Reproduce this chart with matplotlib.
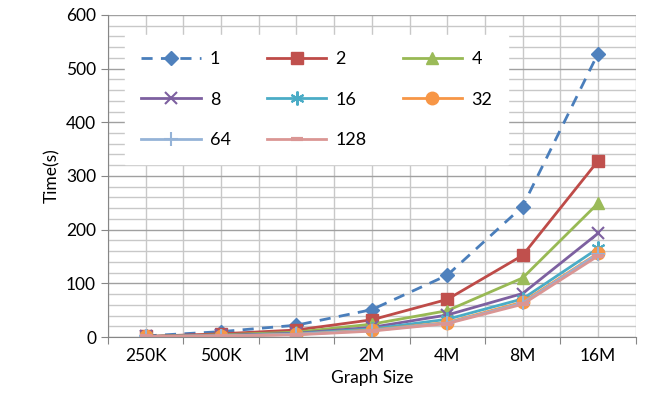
import numpy as np
import matplotlib.pyplot as plt
from matplotlib.ticker import MultipleLocator, FixedLocator

plt.rcParams['font.family'] = ['Lato', 'DejaVu Sans']

sizes = ['250K', '500K', '1M', '2M', '4M', '8M', '16M']
t1 = [2, 10, 22, 51, 115, 243, 528]
t2 = [1, 6, 13, 32, 70, 152, 328]
t4 = [1, 4, 9, 24, 49, 110, 249]
t8 = [1, 3, 7, 18, 41, 81, 193]
t16 = [1, 2, 6, 15, 33, 71, 165]
t32 = [1, 2, 5, 13, 27, 65, 156]
t64 = [1, 2, 5, 12, 26, 63, 155]
t128 = [1, 2, 4, 11, 25, 61, 151]

x = np.arange(len(sizes))

fig = plt.figure(figsize=(6.5, 4.13), dpi=100)
ax = fig.add_axes([0.166, 0.184, 0.812, 0.78])

ax.plot(x, t1, color='#4A7EBB', ls=(0, (4, 3)), lw=2, marker='D', ms=7, mfc='#4F81BD', mec='#4F81BD', label='1')
ax.plot(x, t2, color='#BE4B48', lw=2, marker='s', ms=9, mfc='#C0504D', mec='#C0504D', label='2')
ax.plot(x, t4, color='#98B954', lw=2, marker='^', ms=9, mfc='#9BBB59', mec='#9BBB59', label='4')
ax.plot(x, t8, color='#7D60A0', lw=2, marker='x', ms=9, mew=1.5, label='8')
ax.plot(x, t16, color='#4BACC6', lw=2, marker=(6, 2, 0), ms=10, mew=1.5, label='16')
ax.plot(x, t32, color='#F79646', lw=2, marker='o', ms=9, mfc='#F79646', mec='#F79646', label='32')
ax.plot(x, t64, color='#95B3D7', lw=2, marker='+', ms=10, mew=1.5, label='64')
ax.plot(x, t128, color='#DA9694', lw=2, marker='_', ms=8, mew=3, label='128')

ax.set_xlim(-0.5, len(sizes) - 0.5)
ax.set_ylim(0, 600)

ax.yaxis.set_major_locator(MultipleLocator(100))
ax.yaxis.set_minor_locator(MultipleLocator(20))
ax.xaxis.set_major_locator(FixedLocator(np.arange(-0.5, len(sizes), 1.0)))
ax.xaxis.set_minor_locator(FixedLocator(x))
ax.set_xticklabels([''] * (len(sizes) + 1))
ax.set_xticklabels(sizes, minor=True)

ax.tick_params(axis='x', which='major', length=5, color='#868686', direction='out')
ax.tick_params(axis='x', which='minor', length=0, labelsize=12.5, pad=8)
ax.tick_params(axis='y', which='major', length=5, color='#868686', labelsize=12.5)
ax.tick_params(axis='y', which='minor', length=0)

ax.grid(True, axis='y', which='major', color='#A0A0A0', lw=1)
ax.grid(True, axis='y', which='minor', color='#C8C8C8', lw=1)
ax.grid(True, axis='x', which='both', color='#C8C8C8', lw=1)
ax.set_axisbelow(True)

for s in ['top', 'right']:
    ax.spines[s].set_visible(False)
for s in ['left', 'bottom']:
    ax.spines[s].set_color('#868686')

ax.set_xlabel('Graph Size', fontsize=12.5)
ax.set_ylabel('Time(s)', fontsize=12.5)

h, l = ax.get_legend_handles_labels()
order = [0, 3, 6, 1, 4, 7, 2, 5]
leg = ax.legend([h[i] for i in order], [l[i] for i in order], ncol=3,
                loc='upper left', bbox_to_anchor=(0.015, 0.965), fontsize=13,
                frameon=True, fancybox=False, edgecolor='white', framealpha=1,
                handlelength=3.3, columnspacing=2.0, labelspacing=1.35,
                borderpad=0.9, handletextpad=0.5)

fig.savefig('out.png')
